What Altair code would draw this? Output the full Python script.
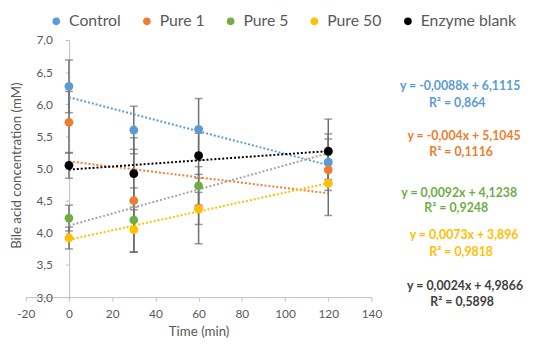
import altair as alt
import pandas as pd

# ---------------- data ----------------
series_names = ["Control", "Pure 1", "Pure 5", "Pure 50", "Enzyme blank"]
times = [0, 30, 60, 120]
control = [6.28, 5.60, 5.61, 5.10]
pure1 = [5.72, 4.50, 4.38, 4.98]
pure5 = [4.23, 4.20, 4.73, 5.26]
pure50 = [3.92, 4.05, 4.37, 4.77]
blank = [5.05, 4.92, 5.20, 5.27]

control_err = [0.41, 0.37, 0.48, 0.44]
pure1_err = [0.48, 0.80, 0.25, 0.15]
pure5_err = [0.20, 0.50, 0.30, 0.20]
pure50_err = [0.17, 0.35, 0.54, 0.50]
blank_err = [0.20, 0.56, 0.35, 0.50]

x_ticks = [-20, 0, 20, 40, 60, 80, 100, 120, 140]
y_ticks = [3.0, 3.5, 4.0, 4.5, 5.0, 5.5, 6.0, 6.5, 7.0]

equations = [
    "y = -0,0088x + 6,1115",
    "y = -0,004x + 5,1045",
    "y = 0,0092x + 4,1238",
    "y = 0,0073x + 3,896",
    "y = 0,0024x + 4,9866",
]
r_squared = ["R² = 0,864", "R² = 0,1116", "R² = 0,9248", "R² = 0,9818", "R² = 0,5898"]

colors = ["#5B9BD5", "#ED7D31", "#70AD47", "#FFC000", "#000000"]
trend_colors = ["#5B9BD5", "#ED7D31", "#A5A5A5", "#FFC000", "#000000"]
eq_colors = ["#5B9BD5", "#ED7D31", "#70AD47", "#FFC000", "#404040"]

values = [control, pure1, pure5, pure50, blank]
errors = [control_err, pure1_err, pure5_err, pure50_err, blank_err]

rows = []
for name, vals, errs in zip(series_names, values, errors):
    for t, v, e in zip(times, vals, errs):
        rows.append({"series": name, "time": t, "value": v, "err": e})
df = pd.DataFrame(rows)

FONT = "Lato"
GREY = "#595959"
ERR = "#6E6E6E"

x_scale = alt.Scale(domain=[-20, 140], nice=False, zero=False)
y_scale = alt.Scale(domain=[3, 7], nice=False, zero=False)

x_axis = alt.Axis(
    values=x_ticks,
    labelExpr="'' + datum.value",
    title="Time (min)",
    grid=False,
    labelFlush=False,
    labelOverlap=False,
    domainColor="#BFBFBF",
    tickColor="#BFBFBF",
    tickSize=4,
    labelPadding=8,
    labelColor=GREY,
    labelFontSize=12,
    labelFont=FONT,
    titleFont=FONT,
    titleFontSize=13.5,
    titleFontWeight="normal",
    titleColor=GREY,
    titleY=35,
    titleBaseline="middle",
)
y_axis = alt.Axis(
    values=y_ticks,
    labelExpr="replace(format(datum.value, '.1f'), '.', ',')",
    title="Bile acid concentration (mM)",
    offset=-44,
    grid=False,
    labelFlush=False,
    labelOverlap=False,
    domainColor="#BFBFBF",
    tickColor="#BFBFBF",
    tickSize=4,
    labelPadding=13,
    labelColor=GREY,
    labelFontSize=12,
    labelFont=FONT,
    titleFont=FONT,
    titleFontSize=13.5,
    titleFontWeight="normal",
    titleColor=GREY,
    titleX=-53,
    titleY=127,
    titleAngle=-90,
    titleAlign="center",
    titleBaseline="middle",
)


def X(field):
    return alt.X(field, type="quantitative", scale=x_scale, axis=x_axis)


def Y(field):
    return alt.Y(field, type="quantitative", scale=y_scale, axis=y_axis)


base = alt.Chart(df)

err_base = base.transform_calculate(
    lo="datum.value - datum.err", hi="datum.value + datum.err"
)
err_rules = err_base.mark_rule(color=ERR, strokeWidth=1.5).encode(
    x=X("time"), y=Y("lo"), y2="hi:Q"
)
cap_lo = err_base.mark_tick(color=ERR, thickness=1.5, size=8, orient="horizontal").encode(
    x=X("time"), y=Y("lo")
)
cap_hi = err_base.mark_tick(color=ERR, thickness=1.5, size=8, orient="horizontal").encode(
    x=X("time"), y=Y("hi")
)

trend = base.transform_regression(
    "time", "value", groupby=["series"], extent=[0, 120]
).mark_line(strokeDash=[2, 2], strokeWidth=2).encode(
    x=X("time"),
    y=Y("value"),
    color=alt.Color(
        "series:N",
        scale=alt.Scale(domain=series_names, range=trend_colors),
        legend=None,
    ),
    detail="series:N",
)

points = base.mark_point(filled=True, opacity=1, size=80, shape="circle").encode(
    x=X("time"),
    y=Y("value"),
    color=alt.Color(
        "series:N",
        scale=alt.Scale(domain=series_names, range=colors),
        sort=series_names,
        legend=alt.Legend(
            title=None,
            orient="none",
            direction="horizontal",
            legendX=23,
            legendY=-27,
            symbolType="circle",
            symbolSize=60,
            symbolStrokeWidth=0,
            labelFont=FONT,
            labelFontSize=16,
            labelColor=GREY,
            labelOffset=5,
            columnPadding=18,
            padding=0,
        ),
    ),
    order=alt.Order("order:Q"),
).transform_calculate(order="indexof(%s, datum.series)" % str(series_names))

# equation labels (positions in pixels, right of the plot)
eq_x = [441, 445, 440, 445, 446]
eq_y = [85, 135, 193, 236, 288]
r2_y = [102, 152, 209, 253, 304]
labels = []
for i in range(5):
    labels.append(
        alt.Chart(pd.DataFrame({"t": [equations[i]]})).mark_text(
            font=FONT, fontSize=12.5, fontWeight="bold", color=eq_colors[i], align="center", baseline="middle"
        ).encode(x=alt.value(eq_x[i]), y=alt.value(eq_y[i] - 38), text="t:N")
    )
    labels.append(
        alt.Chart(pd.DataFrame({"t": [r_squared[i]]})).mark_text(
            font=FONT, fontSize=12.5, fontWeight="bold", color=eq_colors[i], align="center", baseline="middle"
        ).encode(x=alt.value(eq_x[i] - 3), y=alt.value(r2_y[i] - 38), text="t:N")
    )

chart = alt.layer(err_rules, cap_lo, cap_hi, trend, points, *labels).resolve_scale(
    color="independent"
).properties(
    width=351,
    height=261,
    background="white",
    autosize=alt.AutoSizeParams(type="none"),
    padding={"left": 18, "top": 30, "right": 166, "bottom": 40},
).configure_view(strokeWidth=0, stroke=None)

chart.save("out.html", embed_options={"renderer": "svg", "actions": False})
